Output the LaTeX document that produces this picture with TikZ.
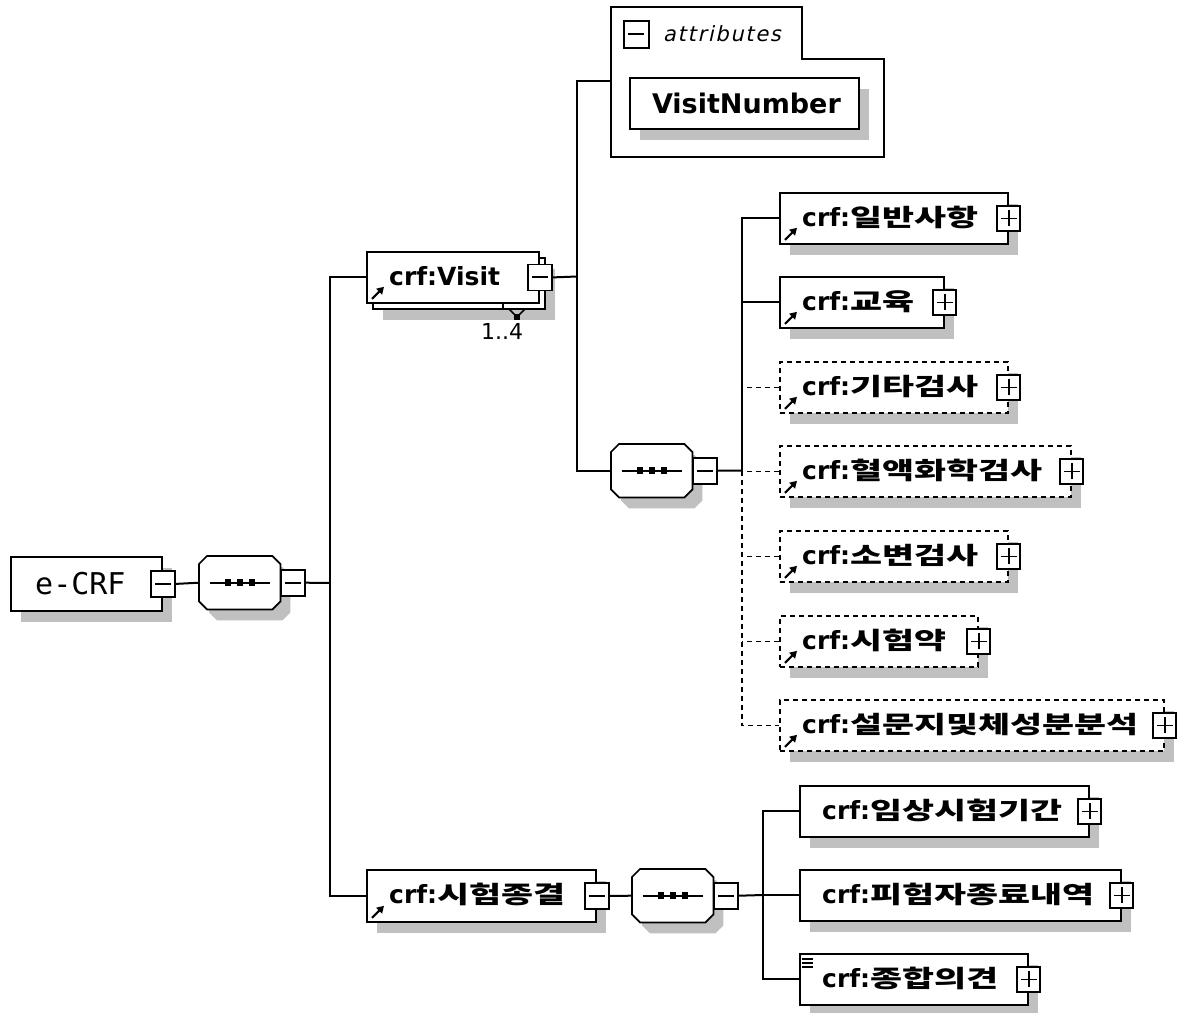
\documentclass[tikz,border=0pt]{standalone}
\usepackage{fontspec}
\newfontfamily\lat{DejaVu Sans}
\newfontfamily\latmono{DejaVu Sans Mono}
\newfontfamily\latit[FakeSlant=0.22,LetterSpace=8]{DejaVu Sans}
\newfontfamily\kr[FakeStretch=1.45]{Noto Sans CJK KR}
\usetikzlibrary{shadows,arrows.meta}
\definecolor{shgrey}{HTML}{C0C0C0}
\newcommand\kor[1]{{\kr\fontsize{24}{24}\selectfont #1}}
\newcommand\octpath[3]{([shift={(8+#2,#3)}]#1.north west) -- ([shift={(-8+#2,#3)}]#1.north east) -- ([shift={(#2,8+#3)}]#1.north east) -- ([shift={(#2,-8+#3)}]#1.south east) -- ([shift={(-8+#2,#3)}]#1.south east) -- ([shift={(8+#2,#3)}]#1.south west) -- ([shift={(#2,-8+#3)}]#1.south west) -- ([shift={(#2,8+#3)}]#1.north west) -- cycle}
\newcommand\seqnode[3]{%
  \node[seqbox] (#1) at (#2,#3) {};
  \fill[shgrey] \octpath{#1}{10}{11};
  \draw[fill=white,line width=1.7pt] \octpath{#1}{0}{0};
  \draw[line width=1.7pt] ([xshift=-30pt]#1.center) -- ([xshift=30pt]#1.center);
  \foreach \a/\b in {-15/-9,-3/3,9/15}
    \fill ([xshift=\a pt,yshift=-3.5pt]#1.center) rectangle ([xshift=\b pt,yshift=3.5pt]#1.center);
  \node[minus,anchor=west] (#1T) at (#1.east) {};}
\newcommand\refarr[1]{%
  \draw[refarrow] ([shift={(6,-5)}]#1.south west) -- ([shift={(18,-17)}]#1.south west);}
\newcommand\refel[6]{%
  \node[#1,minimum width=#5pt,minimum height=51pt] (#2) at (#3,#4) {};
  \node[lab] (#2L) at ([shift={(23,8)}]#2.west) {#6};
  \refarr{#2}
  \node[plus] (#2T) at (#2.east) {};}
\newcommand\plainel[5]{%
  \node[elem,minimum width=#4pt,minimum height=51pt] (#1) at (#2,#3) {};
  \node[lab] (#1L) at ([shift={(23,8)}]#1.west) {#5};
  \node[plus] (#1T) at (#1.east) {};}
\begin{document}
\begin{tikzpicture}[x=1pt,y=-1pt,
  every node/.style={inner sep=0pt},
  shad/.style={drop shadow={shadow xshift=10pt,shadow yshift=-11pt,fill=shgrey,opacity=1,draw=none}},
  box/.style={draw,fill=white,line width=1.8pt,rectangle,anchor=north west},
  elem/.style={box,shad},
  optel/.style={elem,dash pattern=on 5pt off 4pt},
  lab/.style={font=\lat\bfseries\fontsize{25}{25}\selectfont,anchor=base west},
  conn/.style={line width=2pt},
  dconn/.style={line width=1.6pt,dash pattern=on 5pt off 4pt},
  refarrow/.style={solid,line width=2.2pt,-{Triangle[length=7pt,width=8pt]}},
  tog/.style={draw,fill=white,solid,line width=1.7pt,minimum width=24pt,minimum height=26pt},
  minus/.style={tog,path picture={\draw[line width=2pt] ([xshift=-8pt]path picture bounding box.center) -- ([xshift=8pt]path picture bounding box.center);}},
  plus/.style={tog,minimum width=23pt,minimum height=25pt,path picture={\draw[line width=1.8pt] ([xshift=-8pt]path picture bounding box.center) -- ([xshift=8pt]path picture bounding box.center) ([yshift=-8pt]path picture bounding box.center) -- ([yshift=8pt]path picture bounding box.center);}},
  seqbox/.style={rectangle,minimum width=81pt,minimum height=53pt,anchor=north west},
]
\fill[white] (0,0) rectangle (1177,1012);
\useasboundingbox (0,0) rectangle (1177,1012);

% ---------- root ----------
\node[elem,minimum width=151pt,minimum height=54pt] (ecrf) at (10,556) {};
\node[font=\latmono\fontsize{30}{30}\selectfont] (ecrfL) at ([xshift=-6pt]ecrf.center) {e-CRF};
\node[minus] (ecrfT) at (ecrf.east) {};

\seqnode{s1}{199}{556}
\draw[conn] (ecrfT.east) -- (s1.west);
\coordinate (j1) at (330,583);
\draw[conn] (s1T.east) -- (j1);

% ---------- crf:Visit ----------
\node[elem,minimum width=172pt,minimum height=51pt] (visitB) at (372,257) {};
\node[box,minimum width=172pt,minimum height=51pt] (visit) at (366,251) {};
\node[lab] (visitL) at ([shift={(23,8)}]visit.west) {crf:Visit};
\refarr{visit}
\node[minus] (visitT) at (visit.east) {};
\draw[line width=1.4pt] (503,302) -- (503,308);
\draw[line width=1.6pt] (509,309) -- (517,317) -- (525,309);
\fill (514,314) rectangle (520,320);
\node[font=\lat\fontsize{22}{22}\selectfont] (card) at (502,331) {1..4};

% ---------- crf:시험종결 ----------
\node[elem,minimum width=229pt,minimum height=52pt] (endel) at (366,869) {};
\node[lab] (endelL) at ([shift={(23,8)}]endel.west) {crf:\kor{시험종결}};
\refarr{endel}
\node[minus] (endT) at (endel.east) {};

\draw[conn] (visit.west) -| (j1);
\draw[conn] (j1) |- (endel.west);

% ---------- attributes ----------
\draw[line width=1.8pt,fill=white] (611,7) -- (802,7) -- (802,59) -- (884,59) -- (884,157) -- (611,157) -- cycle;
\node[minus,minimum width=25pt,minimum height=27pt,anchor=north west] (attrT) at (623,20) {};
\node[font=\latit\fontsize{21}{21}\selectfont,anchor=west] (attrL) at (663,34) {attributes};
\node[elem,minimum width=229pt,minimum height=51pt] (vn) at (629,77) {};
\node[font=\lat\bfseries\fontsize{27}{27}\selectfont] (vnL) at ([xshift=2pt]vn.center) {VisitNumber};
\coordinate (attrIn) at (611,81);

% ---------- visit sequence ----------
\seqnode{s2}{611}{444}
\coordinate (j2) at (577,276.5);
\draw[conn] (visitT.east) -- (j2);
\draw[conn] (attrIn) -| (j2) |- (s2.west);
\coordinate (j3) at (742,470.5);
\draw[conn] (s2T.east) -- (j3);

\refel{elem}{gen}{779}{192}{228}{crf:\kor{일반사항}}
\refel{elem}{edu}{779}{276}{164}{crf:\kor{교육}}
\refel{optel}{etc}{779}{361}{228}{crf:\kor{기타검사}}
\refel{optel}{blood}{779}{445}{291}{crf:\kor{혈액화학검사}}
\refel{optel}{urine}{779}{530}{228}{crf:\kor{소변검사}}
\refel{optel}{drug}{779}{615}{198}{crf:\kor{시험약}}
\refel{optel}{survey}{779}{699}{384}{crf:\kor{설문지및체성분분석}}

\draw[conn] (gen.west) -| (j3);
\draw[conn] (edu.west) -- (edu.west -| j3);
\draw[dconn] (etc.west) -- (etc.west -| j3);
\draw[dconn] (blood.west) -- (blood.west -| j3);
\draw[dconn] (j3) |- (survey.west);
\draw[dconn] (urine.west) -- (urine.west -| j3);
\draw[dconn] (drug.west) -- (drug.west -| j3);

% ---------- end sequence ----------
\seqnode{s3}{632}{869}
\draw[conn] (endT.east) -- (s3.west);
\coordinate (j4) at (763,895);
\draw[conn] (s3T.east) -- (j4);

\plainel{period}{799}{785}{289}{crf:\kor{임상시험기간}}
\plainel{subj}{799}{869}{321}{crf:\kor{피험자종료내역}}
\plainel{opinion}{799}{953}{228}{crf:\kor{종합의견}}
\foreach \dy in {6,10,14}
  \draw[line width=1.6pt] ([shift={(3,\dy)}]opinion.north west) -- ([shift={(14,\dy)}]opinion.north west);

\draw[conn] (period.west) -| (j4) |- (opinion.west);
\draw[conn] (subj.west) -- (subj.west -| j4);
\end{tikzpicture}
\end{document}
